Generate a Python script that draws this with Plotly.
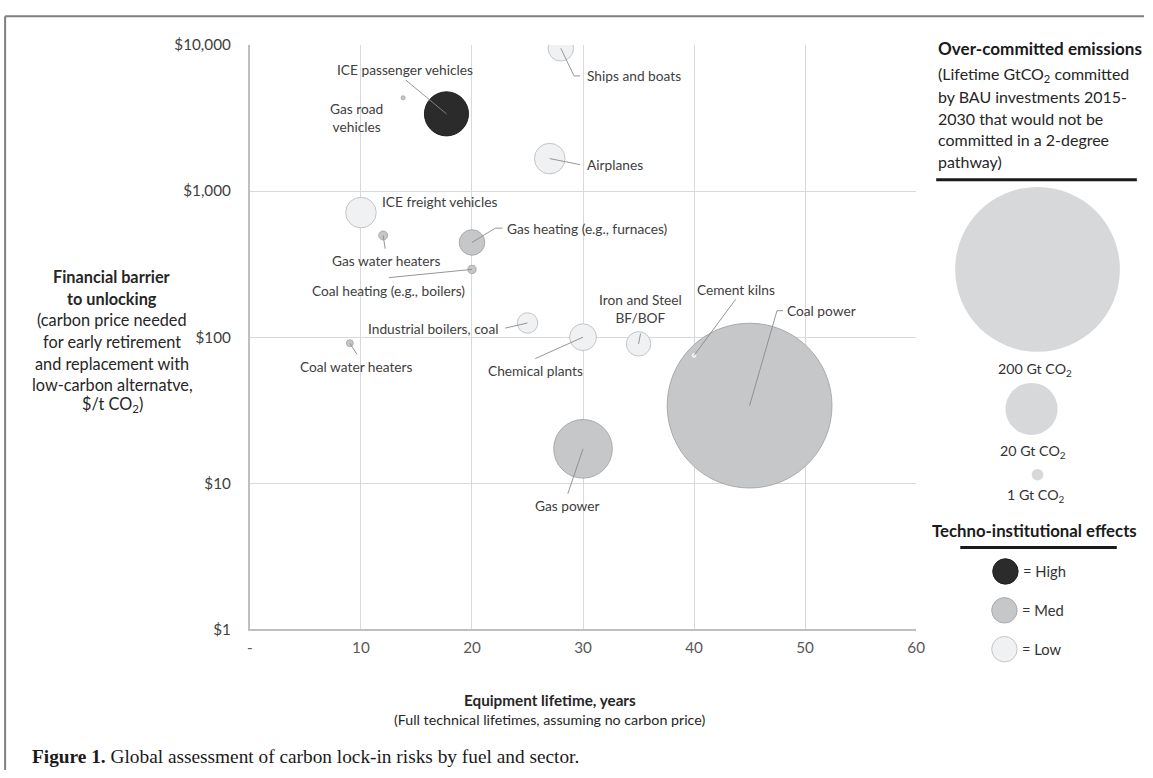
import numpy as np
import pandas as pd
import plotly.graph_objects as go

# target picture size, page margin and the observed photo scaling
W, H = 1153, 778
OFF = 8
WF, HF = W, H                      # figure size
SX, SY = W / (W + 2 * OFF), H / (H + 2 * OFF)
K = 2.0 / (SX + SY)                # size compensation

# ---------------- data ----------------
names = ["Coal power", "Gas power", "ICE passenger vehicles", "Airplanes",
         "ICE freight vehicles", "Chemical plants", "Gas heating (e.g., furnaces)",
         "Ships and boats", "Iron and Steel BF/BOF", "Industrial boilers, coal",
         "Gas water heaters", "Coal heating (e.g., boilers)", "Coal water heaters",
         "Cement kilns", "Gas road vehicles"]
lifetime = [45, 30, 17.7, 27, 10, 30, 20, 28, 35, 25, 12, 20, 9, 40, 13.8]
carbon_price = [34, 17.2, 3380, 1670, 713, 100, 445, 9500, 90, 125, 497, 291, 91, 75, 4350]
emissions = [200, 25.3, 14.3, 6.9, 6.9, 5.3, 4.8, 4.8, 4.4, 3.1, 0.58, 0.49, 0.34, 0.25, 0.12]
effect = ["Med", "Med", "High", "Low", "Low", "Low", "Med", "Low", "Low", "Low",
          "Med", "Med", "Med", "Low", "Med"]

x_tickvals = [0, 10, 20, 30, 40, 50, 60]
x_ticktext = ["-", "10", "20", "30", "40", "50", "60"]
y_tickvals = [1, 10, 100, 1000, 10000]
y_ticktext = ["$1", "$10", "$100", "$1,000", "$10,000"]

legend_sizes = [200, 20, 1]
legend_size_labels = ["200 Gt CO<sub>2</sub>", "20 Gt CO<sub>2</sub>", "1 Gt CO<sub>2</sub>"]
effect_levels = ["High", "Med", "Low"]
effect_labels = ["= High", "= Med", "= Low"]

# ---------------- styles ----------------
FONT = "Lato"
fill = {"High": "#2b2b2b", "Med": "#c6c7c9", "Low": "#f0f1f2"}
edge = {"High": "#1f1f1f", "Med": "#a9aaac", "Low": "#c4c5c7"}
MAX_PX = 162 * K
sizeref = 2.0 * max(emissions) / MAX_PX ** 2

df = pd.DataFrame(dict(name=names, lifetime=lifetime, price=carbon_price,
                       emissions=emissions, effect=effect))
df = df.sort_values("emissions", ascending=False)

# label placement: text offset (px, screen coords), anchor, leader polyline
label_layout = {
    "ICE passenger vehicles": dict(t=(-41, -43), a="center", lead=[(-40, -33)]),
    "Gas road vehicles": dict(t=(-46, 19), a="center", lead=None, txt="Gas road<br>vehicles"),
    "Ships and boats": dict(t=(24, 27), a="left", lead=[(13, 27), (19, 27)]),
    "Airplanes": dict(t=(35, 6), a="left", lead=[(30, 6)]),
    "ICE freight vehicles": dict(t=(19, -11), a="left", lead=None),
    "Gas water heaters": dict(t=(3, 25), a="center", lead=[(2, 13)]),
    "Gas heating (e.g., furnaces)": dict(t=(33, -14), a="left", lead=[(23, -14), (30, -14)]),
    "Coal heating (e.g., boilers)": dict(t=(-82, 21), a="center", lead=[(-82, 8)]),
    "Industrial boilers, coal": dict(t=(-27, 5), a="right", lead=[(-22, 5)]),
    "Chemical plants": dict(t=(-47, 33), a="center", lead=[(-47, 21)]),
    "Iron and Steel BF/BOF": dict(t=(2, -35), a="center", lead=[(2, -10)],
                                  txt="Iron and Steel<br>BF/BOF"),
    "Coal water heaters": dict(t=(7, 23), a="center", lead=[(7, 11)]),
    "Cement kilns": dict(t=(41, -65), a="center", lead=[(41, -55)]),
    "Coal power": dict(t=(35, -93), a="left", lead=[(27, -93), (33, -93)]),
    "Gas power": dict(t=(-15, 56), a="center", lead=[(-15, 44)]),
}

fig = go.Figure()

fig.add_trace(go.Scatter(
    x=df["lifetime"], y=df["price"], mode="markers",
    marker=dict(size=df["emissions"], sizemode="area", sizeref=sizeref,
                color=[fill[e] for e in df["effect"]],
                line=dict(color=[edge[e] for e in df["effect"]], width=1),
                opacity=1),
    showlegend=False, hoverinfo="text", text=df["name"]))

annotations = []
shapes = []

for _, r in df.iterrows():
    L = label_layout[r["name"]]
    dx, dy = L["t"]
    annotations.append(dict(
        x=r["lifetime"], y=np.log10(r["price"]), xref="x", yref="y",
        text=L.get("txt", r["name"]), showarrow=False,
        xshift=dx / SX, yshift=-dy / SY, xanchor=L["a"], yanchor="middle",
        align="center", font=dict(family=FONT, size=13.5 * K, color="#404040")))
    if L["lead"]:
        path = "M0,0 " + " ".join("L%.1f,%.1f" % (p[0] / SX, -p[1] / SY) for p in L["lead"])
        shapes.append(dict(type="path", xref="x", yref="y",
                           xsizemode="pixel", ysizemode="pixel",
                           xanchor=r["lifetime"], yanchor=r["price"],
                           path=path, line=dict(color="#8a8a8a", width=0.9),
                           layer="above"))

# ---------------- legend (overlay axis in target-picture pixels) ----------------
leg_bubble_xy = [(1039, 268), (1033, 408), (1039, 474)]
fig.add_trace(go.Scatter(
    x=[p[0] for p in leg_bubble_xy], y=[p[1] for p in leg_bubble_xy],
    xaxis="x2", yaxis="y2", mode="markers",
    marker=dict(size=legend_sizes, sizemode="area", sizeref=sizeref,
                color=fill["Med"], line=dict(width=0)),
    showlegend=False, hoverinfo="skip"))
leg_label_xy = [(1036, 368), (1034, 451), (1037, 495)]

eff_xy = [(1007, 571), (1006, 610), (1006, 649)]
fig.add_trace(go.Scatter(
    x=[p[0] for p in eff_xy], y=[p[1] for p in eff_xy],
    xaxis="x2", yaxis="y2", mode="markers",
    marker=dict(size=25 * K, color=[fill[e] for e in effect_levels],
                line=dict(color=[edge[e] for e in effect_levels], width=1)),
    showlegend=False, hoverinfo="skip"))


def px(x):
    return min(max((x / SX - OFF) / WF, 0), 1)


def py(y):
    return min(max(1 - (y / SY - OFF) / HF, 0), 1)


def ptext(x, y, text, size=14, anchor="center", color="#262626", family=FONT):
    annotations.append(dict(x=px(x), y=py(y), xref="paper", yref="paper", text=text,
                            showarrow=False, xanchor=anchor, yanchor="middle",
                            font=dict(family=family, size=size * K, color=color)))


for (x, y), t in zip(leg_label_xy, legend_size_labels):
    ptext(x, y, t, size=14, color="#333333")
for (x, y), t in zip(eff_xy, effect_labels):
    ptext(x + 16, y, t, size=14.5, anchor="left", color="#333333")

ptext(1041, 46, "<b>Over-committed emissions</b>", size=16.8, color="#1a1a1a")
para = ["(Lifetime GtCO<sub>2</sub> committed", "by BAU investments 2015-",
        "2030 that would not be", "committed in a 2-degree", "pathway)"]
for i, t in enumerate(para):
    ptext(938, 73 + i * 21.7, t, size=15.7, anchor="left", color="#262626")
ptext(1036, 530, "<b>Techno-institutional effects</b>", size=16.5, color="#1a1a1a")

shapes.append(dict(type="line", xref="paper", yref="paper", x0=px(938), x1=px(1138),
                   y0=py(178), y1=py(178), line=dict(color="#1a1a1a", width=3)))
shapes.append(dict(type="line", xref="paper", yref="paper", x0=px(962), x1=px(1118),
                   y0=py(547), y1=py(547), line=dict(color="#1a1a1a", width=3)))

# y axis title
ytitle = [("<b>Financial barrier</b>", 275), ("<b>to unlocking</b>", 297),
          ("(carbon price needed", 318), ("for early retirement", 340),
          ("and replacement with", 362), ("low-carbon alternatve,", 383),
          ("$/t CO<sub>2</sub>)", 404)]
for t, y in ytitle:
    ptext(117, y, t, size=16, color="#262626")

# x axis title
ptext(553, 700, "<b>Equipment lifetime, years</b>", size=15, color="#262626")
ptext(553, 720, "(Full technical lifetimes, assuming no carbon price)", size=14, color="#262626")

# caption
ptext(35, 757, "<b>Figure 1.</b> Global assessment of carbon lock-in risks by fuel and sector.",
      size=19, anchor="left", color="#1a1a1a", family="Liberation Serif")

# frame
shapes.append(dict(type="line", xref="paper", yref="paper", x0=px(10), x1=1,
                   y0=py(14), y1=py(14), line=dict(color="#7f7f7f", width=2)))
shapes.append(dict(type="line", xref="paper", yref="paper", x0=px(10), x1=px(10),
                   y0=0, y1=py(14), line=dict(color="#7f7f7f", width=2)))

fig.update_layout(
    width=WF, height=HF, margin=dict(l=0, r=0, t=0, b=0),
    paper_bgcolor="white", plot_bgcolor="rgba(0,0,0,0)",
    font=dict(family=FONT, color="#404040"),
    xaxis=dict(domain=[px(254), px(918)], range=[0, 60], tickvals=x_tickvals,
               ticktext=x_ticktext, showgrid=True, gridcolor="#d9d9d9", gridwidth=1,
               showline=True, linecolor="#bfbfbf", linewidth=2, zeroline=False,
               ticks="", tickfont=dict(family=FONT, size=15 * K, color="#595959"),
               ticklabelstandoff=3, anchor="y", fixedrange=True),
    yaxis=dict(domain=[py(629), py(43)], type="log", range=[0, 4], tickvals=y_tickvals,
               ticktext=y_ticktext, showgrid=True, gridcolor="#d9d9d9", gridwidth=1,
               showline=True, linecolor="#bfbfbf", linewidth=2, zeroline=False,
               ticks="", tickfont=dict(family=FONT, size=15 * K, color="#404040"),
               ticklabelstandoff=14, anchor="x", fixedrange=True),
    xaxis2=dict(domain=[0, 1], range=[OFF * SX, (WF + OFF) * SX], visible=False,
                anchor="y2", fixedrange=True),
    yaxis2=dict(domain=[0, 1], range=[(HF + OFF) * SY, OFF * SY], visible=False,
                anchor="x2", fixedrange=True),
    annotations=annotations, shapes=shapes,
)

fig.write_html("out.html")
